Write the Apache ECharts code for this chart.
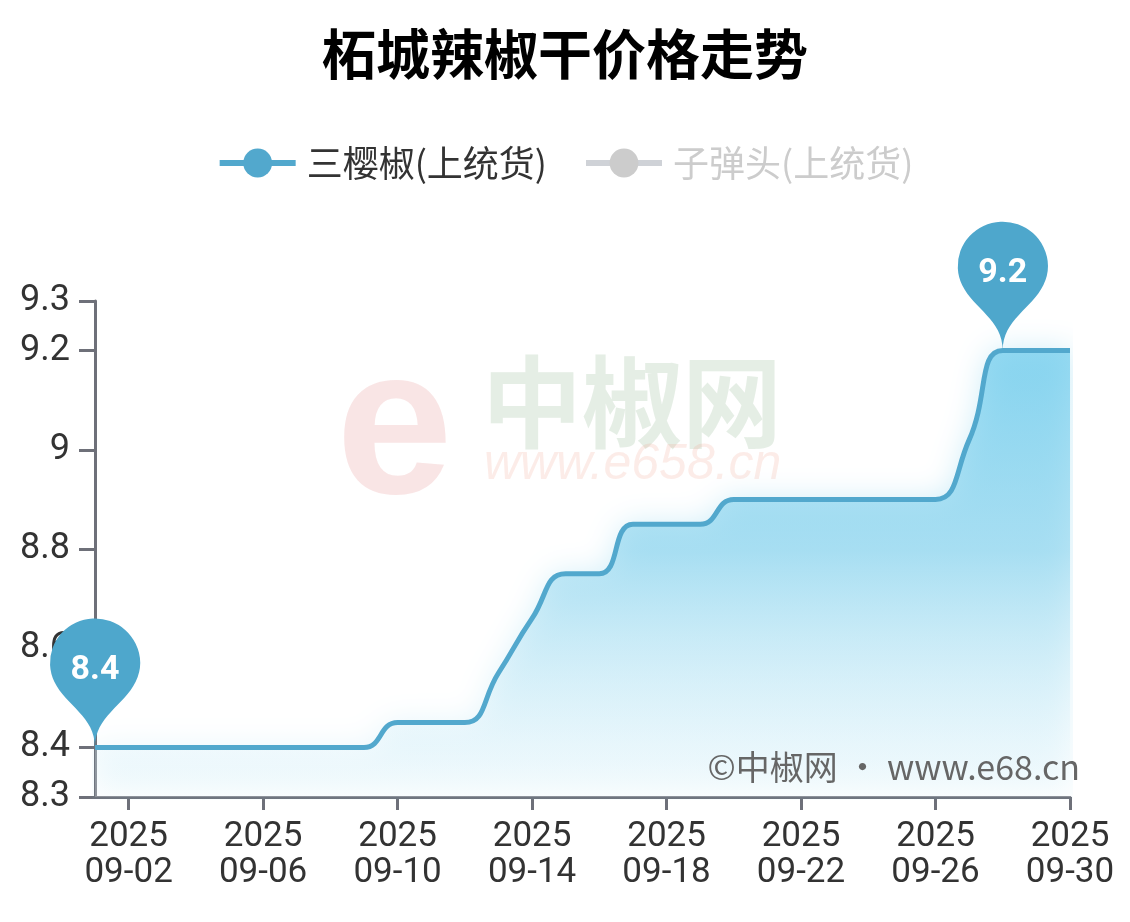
<!DOCTYPE html>
<html>
<head>
<meta charset="utf-8">
<script src="https://cdn.jsdelivr.net/npm/echarts@6/dist/echarts.min.js"></script>
<style>
    html, body { margin: 0; padding: 0; background: #fff; }
    #chart { width: 1130px; height: 922px; }
</style>
</head>
<body>
<div id="chart"></div>
<script>
    // 日期
    var dates = [
        '2025-09-01', '2025-09-02', '2025-09-03', '2025-09-04', '2025-09-05',
        '2025-09-06', '2025-09-07', '2025-09-08', '2025-09-09', '2025-09-10',
        '2025-09-11', '2025-09-12', '2025-09-13', '2025-09-14', '2025-09-15',
        '2025-09-16', '2025-09-17', '2025-09-18', '2025-09-19', '2025-09-20',
        '2025-09-21', '2025-09-22', '2025-09-23', '2025-09-24', '2025-09-25',
        '2025-09-26', '2025-09-27', '2025-09-28', '2025-09-29', '2025-09-30'
    ];
    // 三樱椒(上统货)
    var sanying = [
        8.4, 8.4, 8.4, 8.4, 8.4, 8.4, 8.4, 8.4, 8.4, 8.45,
        8.45, 8.45, 8.55, 8.66, 8.75, 8.75, 8.85, 8.85, 8.85, 8.9,
        8.9, 8.9, 8.9, 8.9, 8.9, 8.9, 9.02, 9.2, 9.2, 9.2
    ];
    // 子弹头(上统货) —— 图例未选中
    var zidantou = [];

    var seriesNames = ['三樱椒(上统货)', '子弹头(上统货)'];
    var yMin = 8.3;
    var yMax = 9.3;

    var lineColor = '#52a8cd';
    var font = 'Roboto, "Noto Sans CJK SC", sans-serif';
    var cjk = '"Noto Sans CJK SC", sans-serif';

    // 每隔4天显示一次标签
    function showIdx(index) {
        return index % 4 === 1;
    }

    var chart = echarts.init(document.getElementById('chart'));

    chart.setOption({
        backgroundColor: '#fff',
        title: {
            text: '柘城辣椒干价格走势',
            left: 'center',
            top: 22,
            textStyle: {
                fontSize: 54,
                fontWeight: 'bold',
                color: '#000',
                fontFamily: cjk
            }
        },
        legend: {
            data: seriesNames,
            top: 140,
            left: 'center',
            itemWidth: 76,
            itemHeight: 36,
            itemGap: 36,
            selected: {
                '子弹头(上统货)': false
            },
            inactiveColor: '#ccc',
            lineStyle: { width: 6, inactiveWidth: 6 },
            textStyle: {
                fontSize: 36,
                color: '#333',
                fontFamily: cjk,
                padding: [0, 0, 0, 6]
            }
        },
        grid: {
            left: 95,
            right: 60,
            top: 301,
            bottom: 125
        },
        graphic: [
            {
                type: 'text',
                left: 336,
                top: 330,
                z: 0,
                style: {
                    text: 'e',
                    fontSize: 210,
                    fontWeight: 'bold',
                    fill: 'rgba(235,160,160,0.28)',
                    fontFamily: 'sans-serif'
                }
            },
            {
                type: 'text',
                left: 482,
                top: 352,
                z: 0,
                style: {
                    text: '中椒网',
                    fontSize: 100,
                    fontWeight: 'bold',
                    fill: 'rgba(170,200,170,0.3)',
                    fontFamily: cjk
                }
            },
            {
                type: 'text',
                left: 484,
                top: 440,
                z: 0,
                style: {
                    text: 'www.e658.cn',
                    fontSize: 50,
                    fontStyle: 'italic',
                    fill: 'rgba(240,170,150,0.22)',
                    fontFamily: 'sans-serif'
                }
            },
            {
                type: 'text',
                right: 50,
                top: 750,
                z: 100,
                style: {
                    text: '©中椒网 · www.e68.cn',
                    fontSize: 34,
                    fill: '#666',
                    fontFamily: cjk
                }
            }
        ],
        xAxis: {
            type: 'category',
            data: dates,
            boundaryGap: false,
            axisLine: {
                lineStyle: { color: '#6e7079', width: 3 }
            },
            axisTick: {
                show: true,
                interval: showIdx,
                length: 13,
                lineStyle: { color: '#6e7079', width: 3 }
            },
            axisLabel: {
                interval: showIdx,
                margin: 22,
                fontSize: 35,
                lineHeight: 36,
                color: '#333',
                fontFamily: font,
                formatter: function (v) {
                    var p = v.split('-');
                    return p[0] + '\n' + p[1] + '-' + p[2];
                }
            },
            splitLine: { show: false }
        },
        yAxis: {
            type: 'value',
            min: yMin,
            max: yMax,
            axisLine: {
                show: true,
                lineStyle: { color: '#6e7079', width: 3 }
            },
            axisTick: {
                show: true,
                length: 16,
                lineStyle: { color: '#6e7079', width: 3 }
            },
            axisLabel: {
                margin: 25,
                fontSize: 36,
                color: '#333',
                fontFamily: font
            },
            splitLine: { show: false }
        },
        series: [
            {
                name: seriesNames[0],
                type: 'line',
                data: sanying,
                smooth: true,
                symbol: 'circle',
                showSymbol: false,
                color: lineColor,
                lineStyle: {
                    width: 5,
                    color: lineColor
                },
                areaStyle: {
                    color: new echarts.graphic.LinearGradient(0, 0, 0, 1, [
                        { offset: 0, color: 'rgba(100,200,235,0.95)' },
                        { offset: 0.45, color: 'rgba(140,212,238,0.85)' },
                        { offset: 1, color: 'rgba(255,255,255,0.3)' }
                    ]),
                    shadowColor: 'rgba(120,205,235,0.6)',
                    shadowBlur: 30
                },
                markPoint: {
                    symbol: 'pin',
                    symbolSize: [150, 148],
                    itemStyle: { color: '#4ea7cc' },
                    label: {
                        fontSize: 34,
                        fontWeight: 'bold',
                        color: '#fff',
                        fontFamily: font
                    },
                    data: [
                        { type: 'max' },
                        { type: 'min' }
                    ]
                }
            },
            {
                name: seriesNames[1],
                type: 'line',
                data: zidantou,
                smooth: true,
                symbol: 'circle',
                showSymbol: false,
                color: '#e8a05a',
                lineStyle: { width: 5 }
            }
        ]
    });
</script>
</body>
</html>
